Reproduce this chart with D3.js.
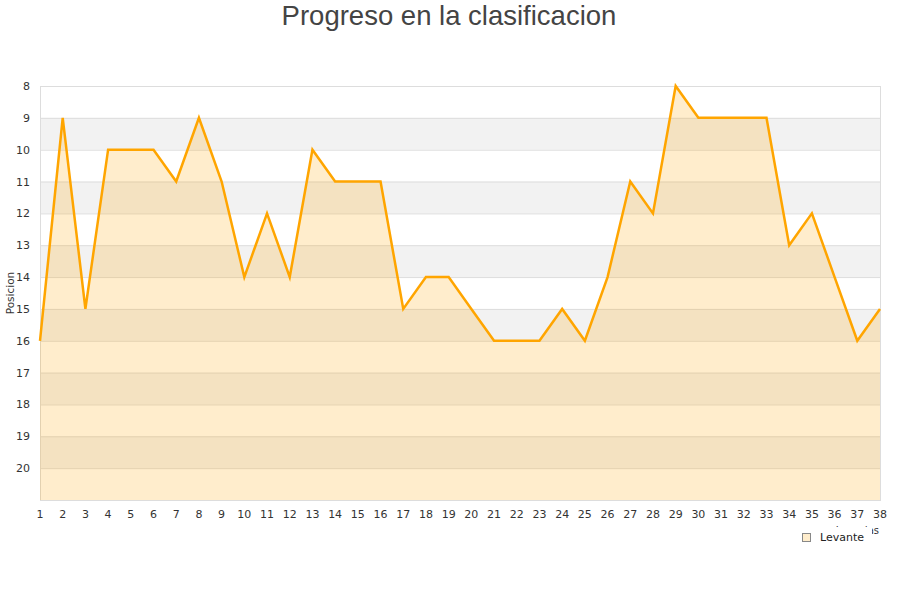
<!DOCTYPE html>
<html><head><meta charset="utf-8">
<script src="https://cdn.jsdelivr.net/npm/d3@7"></script>
<style>body{margin:0;background:#fff}</style>
</head><body>
<svg id="c" width="900" height="600"></svg>
<script>
const jornadas = [1,2,3,4,5,6,7,8,9,10,11,12,13,14,15,16,17,18,19,20,21,22,23,24,25,26,27,28,29,30,31,32,33,34,35,36,37,38];
const posiciones = [16,9,15,10,10,10,11,9,11,14,12,14,10,11,11,11,15,14,14,15,16,16,16,15,16,14,11,12,8,9,9,9,9,13,12,14,16,15];
const yTicks = [8,9,10,11,12,13,14,15,16,17,18,19,20];
const titulo = "Progreso en la clasificacion";
const equipo = "Levante";

const svg = d3.select("#c");
const L=40,R=880,T=86,B=500;
const x = d3.scaleLinear().domain([1,38]).range([L,R]);
const y = d3.scaleLinear().domain([8,21]).range([T,B]);

// bands
for (let v=9; v<21; v+=2){
  svg.append("rect").attr("x",L).attr("y",y(v)).attr("width",R-L).attr("height",y(v+1)-y(v)).attr("fill","#f2f2f2");
}
// grid
svg.append("g").selectAll("line").data(yTicks).join("line")
  .attr("x1",L).attr("x2",R).attr("y1",d=>y(d)+0.5).attr("y2",d=>y(d)+0.5)
  .attr("stroke","#ddd").attr("stroke-width",1);
svg.append("rect").attr("x",L+0.5).attr("y",T+0.5).attr("width",R-L).attr("height",B-T)
  .attr("fill","none").attr("stroke","#ddd");

const data = jornadas.map((j,i)=>({j, p:posiciones[i]}));
svg.append("path").datum(data)
  .attr("d", d3.area().x(d=>x(d.j)).y0(y(21)).y1(d=>y(d.p)))
  .attr("fill","rgba(255,165,0,0.2)");
svg.append("path").datum(data)
  .attr("d", d3.line().x(d=>x(d.j)).y(d=>y(d.p)))
  .attr("fill","none").attr("stroke","#ffa500").attr("stroke-width",2.5).attr("stroke-linejoin","miter");

// axes labels
svg.append("g").selectAll("text").data(yTicks).join("text")
  .attr("x",30).attr("y",d=>y(d)+4).attr("text-anchor","end")
  .attr("font-family","DejaVu Sans").attr("font-size",11).attr("fill","#333").text(d=>d);
svg.append("g").selectAll("text").data(jornadas).join("text")
  .attr("x",d=>x(d)).attr("y",518).attr("text-anchor","middle")
  .attr("font-family","DejaVu Sans").attr("font-size",11).attr("fill","#333").text(d=>d);

svg.append("text").attr("transform","translate(14,293) rotate(-90)").attr("text-anchor","middle")
  .attr("font-family","DejaVu Sans").attr("font-size",10.5).attr("fill","#333").text("Posicion");

// x-axis title, mostly hidden under the legend box
svg.append("text").attr("x",879).attr("y",534).attr("text-anchor","end")
  .attr("font-family","DejaVu Sans").attr("font-size",10).attr("fill","#333").text("Jornadas");
svg.append("rect").attr("x",795).attr("y",527).attr("width",77).attr("height",22).attr("fill","#fff");

// legend
svg.append("rect").attr("x",802.5).attr("y",533.5).attr("width",8).attr("height",8)
  .attr("fill","#ffedcc").attr("stroke","#888");
svg.append("text").attr("x",820).attr("y",541).attr("font-family","DejaVu Sans").attr("font-size",11)
  .attr("fill","#222").text(equipo);

svg.append("text").attr("x",449).attr("y",25).attr("text-anchor","middle")
  .attr("font-family","Liberation Sans, Arial").attr("font-size",27.5).attr("fill","#444").text(titulo);
</script>
</body></html>
